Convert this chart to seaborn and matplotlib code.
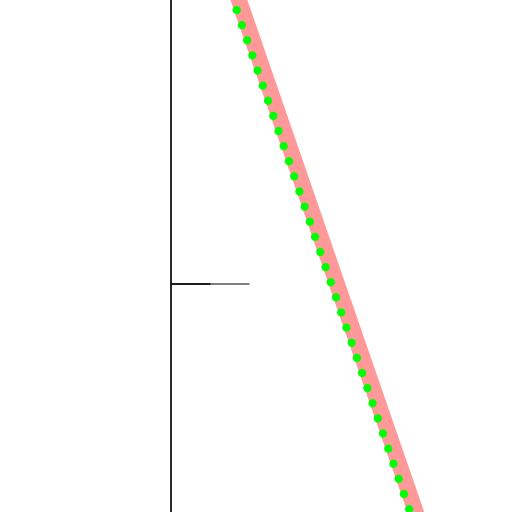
import matplotlib
matplotlib.use('Agg')
import matplotlib.pyplot as plt
import seaborn as sns

# data (pixel-like units, y grows downward)
pink_x = [232.0, 422.0]
pink_y = [-20.0, 530.0]
green_x = [236.7, 415.0]
green_y = [10.0, 526.0]
vline_x = 171.0
hline_y = 284.0
hline_dark = [171.0, 210.0]
hline_gray = [171.0, 249.0]

sns.set_style('white')
fig = plt.figure(figsize=(5.12, 5.12), dpi=100)
ax = fig.add_axes([0, 0, 1, 1])

sns.lineplot(x=pink_x, y=pink_y, ax=ax, color='#ff9999', linewidth=11.5,
             estimator=None, sort=False)
sns.lineplot(x=green_x, y=green_y, ax=ax, color='#00ff00', linewidth=6,
             estimator=None, sort=False, dashes=False)
ax.lines[-1].set_linestyle((0, (0.01, 1.91)))
ax.lines[-1].set_dash_capstyle('round')

ax.axvline(vline_x, color='black', linewidth=1.2)
ax.plot(hline_gray, [hline_y, hline_y], color='#5a5a5a', linewidth=1.1)
ax.plot(hline_dark, [hline_y, hline_y], color='black', linewidth=1.1)

ax.set_xlim(0, 512)
ax.set_ylim(512, 0)
ax.axis('off')

plt.savefig('out.png', dpi=100)
plt.close()
